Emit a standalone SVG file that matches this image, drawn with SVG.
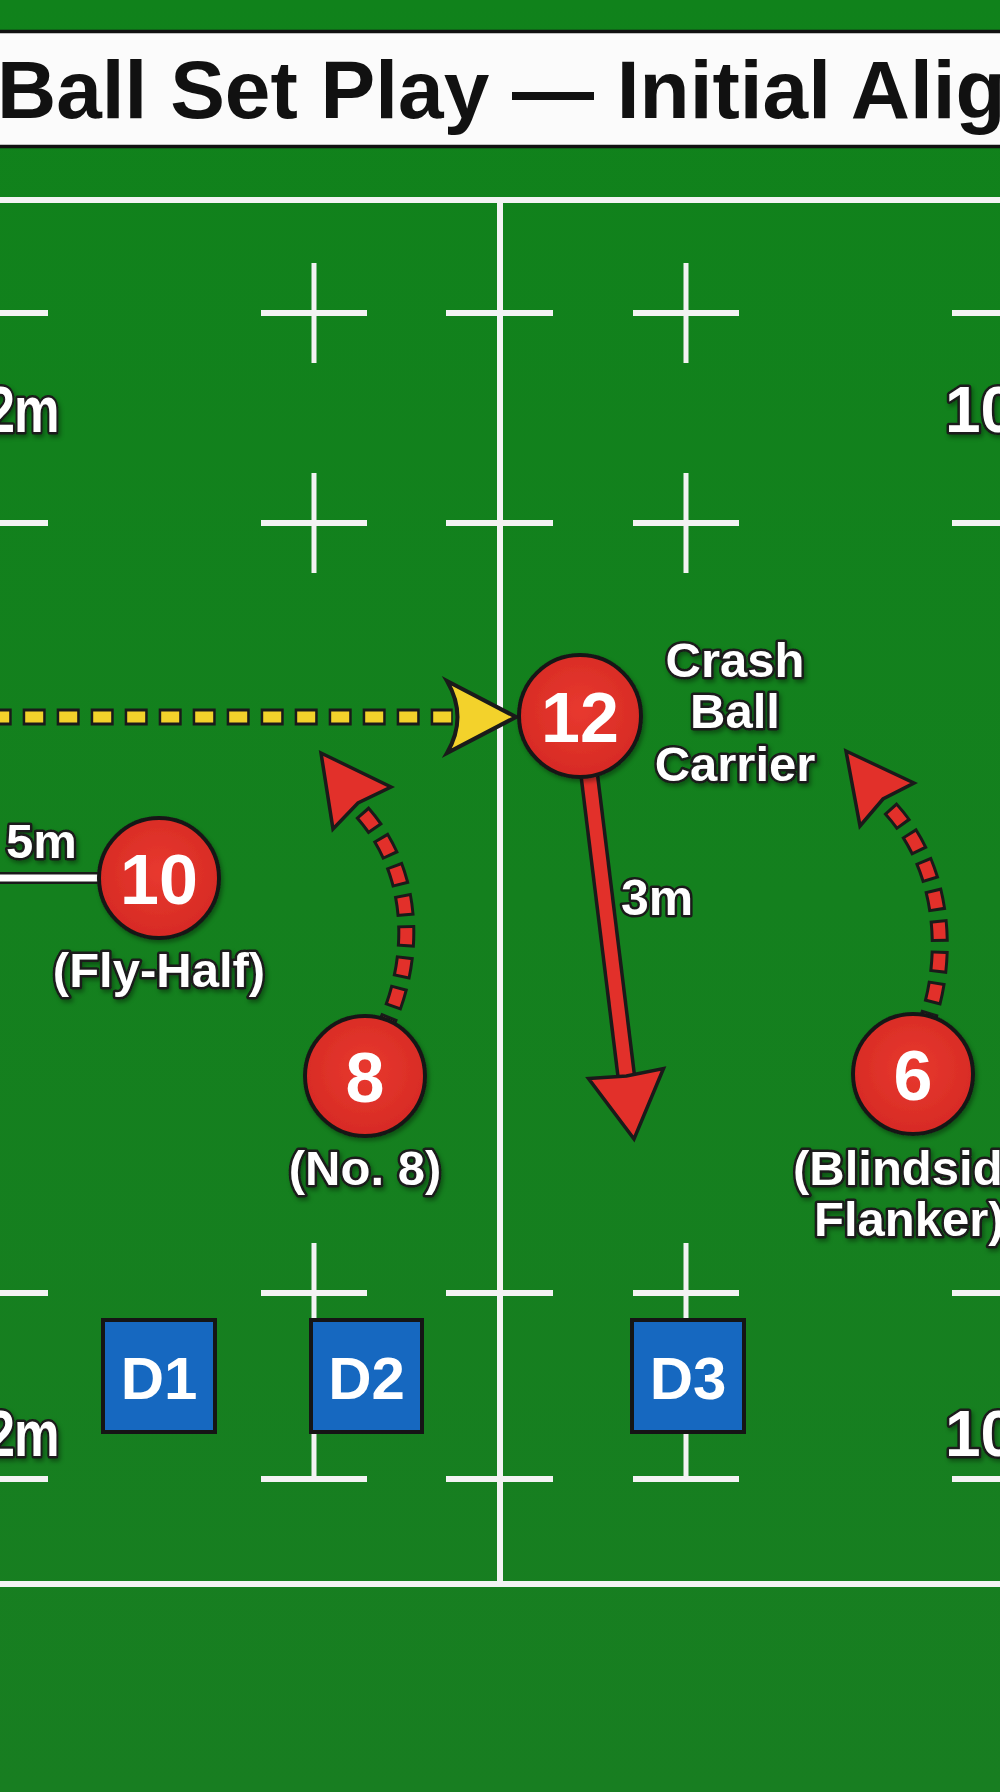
<svg xmlns="http://www.w3.org/2000/svg" width="1000" height="1792" viewBox="0 0 1000 1792">
<defs>
<linearGradient id="grass" x1="0" y1="0" x2="0" y2="1">
<stop offset="0" stop-color="#10821b"/>
<stop offset="1" stop-color="#187e21"/>
</linearGradient>
<radialGradient id="redball" cx="0.5" cy="0.45" r="0.6">
<stop offset="0" stop-color="#e8392f"/>
<stop offset="1" stop-color="#d52923"/>
</radialGradient>
<filter id="sh" x="-20%" y="-20%" width="140%" height="140%">
<feDropShadow dx="2" dy="3" stdDeviation="2" flood-color="#000" flood-opacity="0.35"/>
</filter>
<style>
.fl{stroke:#f3f3f3;stroke-width:6;fill:none}
.fv{stroke:#f3f3f3;stroke-width:5;fill:none}
.t{font-family:"Liberation Sans",Arial,Helvetica,sans-serif;font-weight:bold}
.lbl{fill:#fff;stroke:#1a1a1a;stroke-width:5;paint-order:stroke;stroke-linejoin:round;font-size:49px}
.big{font-size:64px}
.num{fill:#fff;font-size:70px;text-anchor:middle}
.ball{fill:url(#redball);stroke:#181818;stroke-width:4}
.def{fill:#1668c0;stroke:#151515;stroke-width:4}
.dtx{fill:#fff;font-size:60px;text-anchor:middle}
.mid{text-anchor:middle}
.hd{fill:#e2302a;stroke:#1a1a1a;stroke-width:3.5;stroke-linejoin:miter}
</style>
</defs>

<!-- background -->
<rect x="0" y="0" width="1000" height="1792" fill="url(#grass)"/>

<!-- title band -->
<g id="title">
<rect x="-5" y="31.5" width="1010" height="115" fill="#fbfbfb" stroke="#111" stroke-width="3.5"/>
<text class="t" x="-3" y="118" font-size="82" fill="#111">Ball Set Play — Initial Alig</text>
</g>

<!-- field markings -->
<g id="field">
<line class="fl" x1="0" y1="200" x2="1000" y2="200"/>
<line class="fl" x1="0" y1="1584" x2="1000" y2="1584"/>
<line class="fl" x1="500" y1="197" x2="500" y2="1587"/>
<g class="fl">
<path d="M0 313H48M261 313H367M446 313H553M633 313H739M952 313H1000"/>
<path d="M0 523H48M261 523H367M446 523H553M633 523H739M952 523H1000"/>
<path d="M0 1293H48M261 1293H367M446 1293H553M633 1293H739M952 1293H1000"/>
<path d="M0 1479H48M261 1479H367M446 1479H553M633 1479H739M952 1479H1000"/>
</g>
<g class="fv">
<path d="M314 263V363M686 263V363M314 473V573M686 473V573M314 1243V1479M686 1243V1479"/>
</g>
<g filter="url(#sh)">
<text class="t lbl big" transform="translate(0,432) scale(0.8,1)" x="-17" y="0" letter-spacing="-1">2m</text>
<text class="t lbl big" x="945" y="432">10</text>
<text class="t lbl big" transform="translate(0,1456) scale(0.8,1)" x="-17" y="0" letter-spacing="-1">2m</text>
<text class="t lbl big" x="945" y="1456">10</text>
</g>
</g>

<!-- connectors -->
<g id="connectors">
<!-- 5m spacing line -->
<g id="spacing-5m">
<line x1="-2" y1="878" x2="100" y2="878" stroke="#1a1a1a" stroke-width="12"/>
<line x1="-2" y1="878" x2="100" y2="878" stroke="#fff" stroke-width="7"/>
<text class="t lbl" x="6" y="858" filter="url(#sh)">5m</text>
</g>
<!-- pass 10 -> 12 (yellow dashed) -->
<g id="pass">
<line x1="-11.3" y1="717" x2="452.7" y2="717" stroke="#1a1a1a" stroke-width="17" stroke-dasharray="23 11"/>
<line x1="-11.3" y1="717" x2="452.7" y2="717" stroke="#f3d22b" stroke-width="11" stroke-dasharray="18 16" stroke-dashoffset="-2.5"/>
<path d="M447,681 L516,717 L447,753 Q468,717 447,681 Z" fill="#f3d22b" stroke="#1a1a1a" stroke-width="4" stroke-linejoin="miter"/>
</g>
<!-- 12 crash run -->
<g id="run12">
<line x1="588" y1="765" x2="626.5" y2="1078" stroke="#1a1a1a" stroke-width="20"/>
<line x1="588" y1="765" x2="626.5" y2="1078" stroke="#e2302a" stroke-width="13"/>
<path class="hd" d="M634,1139 L588.5,1078.5 L626.4,1076 L663.5,1068.5 Z"/>
<text class="t lbl" x="621" y="915" style="font-size:50px">3m</text>
</g>
<!-- 8 support run -->
<g id="run8">
<path d="M362,812 C418,875 414,960 388,1020" fill="none" stroke="#1a1a1a" stroke-width="18" stroke-dasharray="22 9"/>
<path d="M362,812 C418,875 414,960 388,1020" fill="none" stroke="#e2302a" stroke-width="12" stroke-dasharray="16 15" stroke-dashoffset="-3"/>
<path class="hd" d="M321,753 L391,787 L358,803 L333,829 Z"/>
</g>
<!-- 6 support run -->
<g id="run6">
<path d="M890,808 C947,870 948,960 928,1018" fill="none" stroke="#1a1a1a" stroke-width="18" stroke-dasharray="22 9"/>
<path d="M890,808 C947,870 948,960 928,1018" fill="none" stroke="#e2302a" stroke-width="12" stroke-dasharray="16 15" stroke-dashoffset="-3"/>
<path class="hd" d="M846,751 L914,783 L883,799 L860,826 Z"/>
</g>
</g>

<!-- attackers -->
<g id="p10">
<circle class="ball" cx="159" cy="878" r="60" filter="url(#sh)"/>
<text class="t num" x="159" y="904">10</text>
<text class="t lbl mid" x="159" y="987" filter="url(#sh)">(Fly-Half)</text>
</g>
<g id="p12">
<circle class="ball" cx="580" cy="716" r="61" filter="url(#sh)"/>
<text class="t num" x="580" y="742">12</text>
<g filter="url(#sh)">
<text class="t lbl mid" x="735" y="677">Crash</text>
<text class="t lbl mid" x="735" y="728">Ball</text>
<text class="t lbl mid" x="735" y="781">Carrier</text>
</g>
</g>
<g id="p8">
<circle class="ball" cx="365" cy="1076" r="60" filter="url(#sh)"/>
<text class="t num" x="365" y="1102">8</text>
<text class="t lbl mid" x="365" y="1185" filter="url(#sh)">(No. 8)</text>
</g>
<g id="p6">
<circle class="ball" cx="913" cy="1074" r="60" filter="url(#sh)"/>
<text class="t num" x="913" y="1100">6</text>
<g filter="url(#sh)">
<text class="t lbl" x="793" y="1185">(Blindsid</text>
<text class="t lbl" x="814" y="1236">Flanker)</text>
</g>
</g>

<!-- defenders -->
<g id="d1">
<rect class="def" x="103" y="1320" width="112" height="112"/>
<text class="t dtx" x="159" y="1399">D1</text>
</g>
<g id="d2">
<rect class="def" x="311" y="1320" width="111" height="112"/>
<text class="t dtx" x="366.5" y="1399">D2</text>
</g>
<g id="d3">
<rect class="def" x="632" y="1320" width="112" height="112"/>
<text class="t dtx" x="688" y="1399">D3</text>
</g>
</svg>
